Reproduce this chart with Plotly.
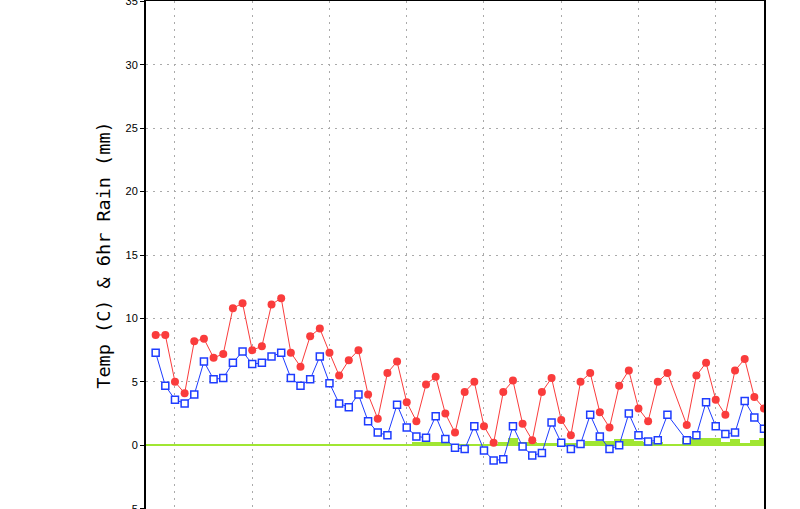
import plotly.graph_objects as go

# 6-hourly steps (step 54 missing)
steps = [i for i in range(64) if i != 54]

temp = [8.7, 8.7, 5.0, 4.1, 8.2, 8.4, 6.9, 7.2, 10.8, 11.2,
        7.5, 7.8, 11.1, 11.6, 7.3, 6.2, 8.6, 9.2, 7.3, 5.5,
        6.7, 7.5, 4.0, 2.1, 5.7, 6.6, 3.4, 1.9, 4.8, 5.4,
        2.5, 1.0, 4.2, 5.0, 1.5, 0.2, 4.2, 5.1, 1.7, 0.4,
        4.2, 5.3, 2.0, 0.8, 5.0, 5.7, 2.6, 1.4, 4.7, 5.9,
        2.9, 1.9, 5.0, 5.7, 1.6, 5.5, 6.5, 3.6, 2.4, 5.9,
        6.8, 3.8, 2.9]

dewpt = [7.3, 4.7, 3.6, 3.3, 4.0, 6.6, 5.2, 5.3, 6.5, 7.4,
         6.4, 6.5, 7.0, 7.3, 5.3, 4.7, 5.2, 7.0, 4.9, 3.3,
         3.0, 4.0, 1.9, 1.0, 0.8, 3.2, 1.4, 0.7, 0.6, 2.3,
         0.5, -0.2, -0.3, 1.5, -0.4, -1.2, -1.1, 1.5, -0.1, -0.8,
         -0.6, 1.8, 0.2, -0.3, 0.1, 2.4, 0.7, -0.3, 0.0, 2.5,
         0.8, 0.3, 0.4, 2.4, 0.4, 0.8, 3.4, 1.5, 0.9, 1.0,
         3.5, 2.2, 1.3]

rain = [0.1, 0, 0, 0, 0, 0.1, 0, 0, 0, 0.1,
        0, 0, 0, 0, 0, 0, 0.1, 0, 0, 0.1,
        0, 0, 0, 0, 0, 0, 0, 0.3, 0.3, 0.3,
        0.3, 0, 0, 0, 0, 0, 0.3, 0.55, 0.3, 0.25,
        0.15, 0.15, 0.15, 0.15, 0.15, 0.35, 0.35, 0.35, 0.5, 0.5,
        0.35, 0.25, 0.25, 0.05, 0.55, 0.55, 0.55, 0.55, 0.25, 0.5,
        0.2, 0.4, 0.55]

green = '#a0e632'
red = '#fa3c3c'
blue = '#1e3cff'
grid = '#aaaaaa'

fig = go.Figure()

fig.add_trace(go.Bar(x=steps, y=rain, width=1, marker_color=green,
                     marker_line_width=0))

fig.add_trace(go.Scatter(x=steps, y=dewpt, mode='lines+markers',
                         line=dict(color=blue, width=1),
                         marker=dict(symbol='square', size=7, color='white',
                                     line=dict(width=1.5, color=blue))))

fig.add_trace(go.Scatter(x=steps, y=temp, mode='lines+markers',
                         line=dict(color=red, width=1),
                         marker=dict(symbol='circle', size=8, color=red)))

fig.update_layout(
    width=800, height=509,
    margin=dict(l=146, r=36, t=1, b=0),
    plot_bgcolor='white', paper_bgcolor='white',
    showlegend=False, bargap=0,
    font=dict(family='Liberation Sans', color='black'),
)

fig.update_xaxes(range=[-1, 63], tick0=2, dtick=8, showticklabels=False,
                 showgrid=True, gridcolor=grid, griddash='2px,5px', gridwidth=1,
                 showline=True, linecolor='black', linewidth=2, mirror=True,
                 ticks='', zeroline=False, automargin=False)

fig.update_yaxes(range=[-5.02, 35.02], tick0=-5, dtick=5, automargin=False,
                 ticklabeloverflow='allow',
                 showgrid=True, gridcolor=grid, griddash='2px,5px', gridwidth=1,
                 showline=True, linecolor='black', linewidth=2, mirror=True,
                 ticks='outside', ticklen=4, tickwidth=1, tickcolor='black',
                 tickfont=dict(size=11, family='Liberation Sans'),
                 zeroline=True, zerolinecolor=green, zerolinewidth=2,
                 title=dict(text='Temp (C) & 6hr Rain (mm)', standoff=10,
                            font=dict(size=18.5, family='DejaVu Sans Mono')))

# the page body has a default 8px margin; remove it
fig.write_html("out.html", config={'displayModeBar': False},
               post_script="document.body.style.margin='0';")
